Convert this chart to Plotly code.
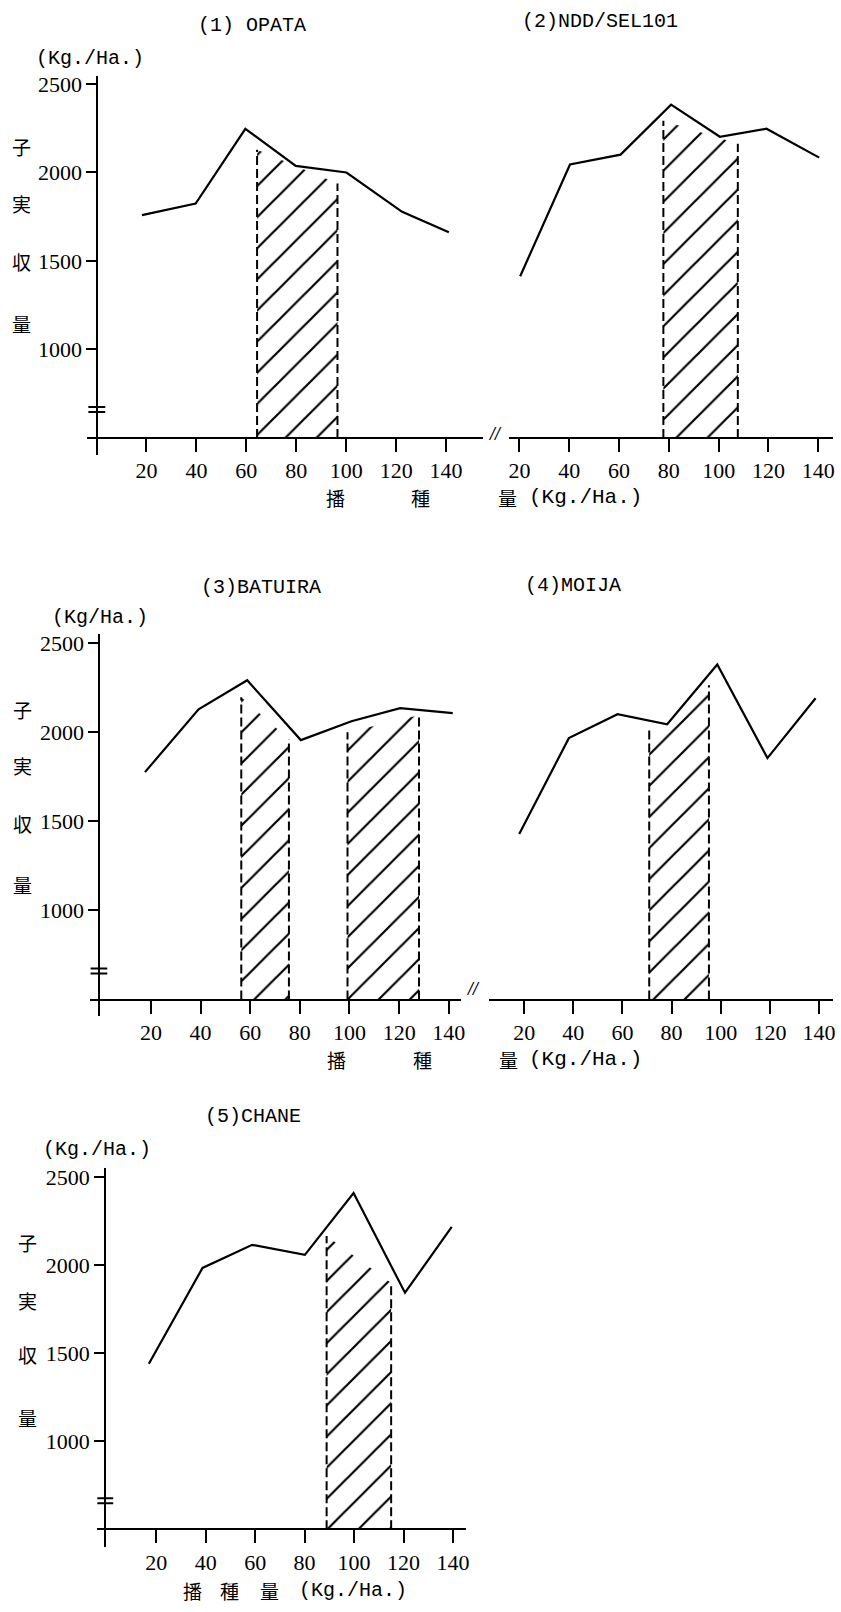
import plotly.graph_objects as go

W, H = 841, 1612

# ---------------- data ----------------
titles = ["(1) OPATA", "(2)NDD/SEL101", "(3)BATUIRA", "(4)MOIJA", "(5)CHANE"]
x_ticks = [20, 40, 60, 80, 100, 120, 140]
y_ticks = [1000, 1500, 2000, 2500]

rate_1 = [18.2, 39.7, 59.6, 79.8, 100.1, 122.4, 141.1]
yield_1 = [1758, 1824, 2246, 2036, 1999, 1777, 1661]
rate_2 = [20.3, 40.3, 60.6, 80.9, 100.5, 119.2, 140.4]
yield_2 = [1413, 2044, 2100, 2382, 2201, 2246, 2083]
rate_3 = [17.6, 39.2, 58.8, 80.4, 100.8, 120.4, 141.6]
yield_3 = [1777, 2130, 2293, 1957, 2063, 2136, 2108]
rate_4 = [18.0, 38.2, 58.0, 78.2, 98.6, 119.0, 138.6]
yield_4 = [1430, 1968, 2102, 2046, 2382, 1856, 2192]
rate_5 = [17.0, 38.7, 58.8, 80.1, 99.8, 120.6, 139.5]
yield_5 = [1440, 1984, 2115, 2058, 2409, 1843, 2217]

# optimum ranges (hatched): [left rate, right rate, top at left, top at right]
hatch_1 = [[64.3, 96.5, 2128, 1937]]
hatch_2 = [[77.8, 107.7, 2292, 2162]]
hatch_3 = [[56.4, 75.6, 2197, 1962], [99.2, 128.0, 2001, 2097]]
hatch_4 = [[70.9, 95.2, 2018, 2265]]
hatch_5 = [[88.9, 115.0, 2166, 1899]]

base_value = 500

# ---------------- layout helpers (pixel geometry) ----------------
panels = [
    dict(rate=rate_1, yld=yield_1, hatch=hatch_1, p0=96.2, k=2.515, span=(87, 485), yax=97, row=0, show_y=True),
    dict(rate=rate_2, yld=yield_2, hatch=hatch_2, p0=472.0, k=2.508, span=(512, 838), yax=472, row=0, show_y=False),
    dict(rate=rate_3, yld=yield_3, hatch=hatch_3, p0=101.0, k=2.5, span=(90, 463), yax=99, row=1, show_y=True),
    dict(rate=rate_4, yld=yield_4, hatch=hatch_4, p0=477.4, k=2.475, span=(492, 838), yax=477, row=1, show_y=False),
    dict(rate=rate_5, yld=yield_5, hatch=hatch_5, p0=106.6, k=2.49, span=(97, 468), yax=105, row=2, show_y=True),
]
rows = [
    dict(base=435, k=0.1775, top=72, bottom=452),
    dict(base=998, k=0.1785, top=632, bottom=1015),
    dict(base=1529, k=0.1765, top=1167, bottom=1547),
]

def px(x):
    return x / W

def py(y):
    return 1 - y / H

NUM_FONT = dict(family="Liberation Serif, DejaVu Serif, serif", size=22, color="black")
TXT_FONT = dict(family="Liberation Mono, monospace", size=20, color="black")
UNIT_X_FONT = dict(family="Liberation Mono, monospace", size=21, color="black")
CJK_FONT = dict(family="Noto Sans CJK JP", size=19, color="black")

fig = go.Figure()
layout = dict(
    width=W, height=H, autosize=False,
    margin=dict(l=0, r=0, t=0, b=0),
    paper_bgcolor="white", plot_bgcolor="white",
    showlegend=False,
)
shapes = []

for i, p in enumerate(panels):
    n = i + 1
    r = rows[p["row"]]
    xs = "x" if n == 1 else f"x{n}"
    ys = "y" if n == 1 else f"y{n}"
    xr = [(p["span"][0] - p["p0"]) / p["k"], (p["span"][1] - p["p0"]) / p["k"]]
    yr = [base_value - (r["bottom"] - r["base"]) / r["k"],
          base_value + (r["base"] - r["top"]) / r["k"]]
    layout["xaxis" if n == 1 else f"xaxis{n}"] = dict(
        domain=[px(p["span"][0]), px(p["span"][1])], range=xr,
        anchor="free", position=py(r["base"]),
        showgrid=False, zeroline=False, showline=True, linecolor="black", linewidth=2,
        ticks="outside", ticklen=13, tickwidth=2, tickcolor="black",
        tickvals=x_ticks, ticktext=[str(v) for v in x_ticks], tickfont=NUM_FONT,
    )
    layout["yaxis" if n == 1 else f"yaxis{n}"] = dict(
        domain=[py(r["bottom"]), py(r["top"])], range=yr,
        anchor="free", position=px(p["yax"]),
        visible=p["show_y"],
        showgrid=False, zeroline=False, showline=True, linecolor="black", linewidth=2,
        ticks="outside", ticklen=10, tickwidth=2, tickcolor="black",
        tickvals=y_ticks, ticktext=[str(v) for v in y_ticks], tickfont=NUM_FONT,
    )

    for h in p["hatch"]:
        xl, xrr, tl, tr = h
        fig.add_trace(go.Scatter(
            x=[xl, xl, xrr, xrr, xl], y=[base_value, tl, tr, base_value, base_value],
            xaxis=xs, yaxis=ys, mode="lines", fill="toself",
            line=dict(width=0, color="rgba(0,0,0,0)"),
            fillcolor="rgba(0,0,0,0)",
            fillpattern=dict(shape="/", fgcolor="black", fgopacity=1,
                             bgcolor="rgba(0,0,0,0)", size=22, solidity=0.1),
            hoverinfo="skip",
        ))
        fig.add_trace(go.Scatter(
            x=[xl, xl, None, xrr, xrr], y=[base_value, tl, None, base_value, tr],
            xaxis=xs, yaxis=ys, mode="lines",
            line=dict(color="black", width=2, dash="9px,4px"),
            hoverinfo="skip",
        ))

    fig.add_trace(go.Scatter(
        x=p["rate"], y=p["yld"], xaxis=xs, yaxis=ys, mode="lines",
        line=dict(color="black", width=2.2),
    ))

    if p["show_y"]:
        # axis-break mark on the y axis
        for off in (31, 26):
            yb = base_value + off / r["k"]
            shapes.append(dict(type="line", xref=xs, yref=ys,
                               x0=(p["yax"] - 9 - p["p0"]) / p["k"], x1=(p["yax"] + 8 - p["p0"]) / p["k"],
                               y0=yb, y1=yb, line=dict(color="black", width=2)))

annotations = []

def ann(text, x, y, font, xanchor="center"):
    annotations.append(dict(text=text, x=px(x), y=py(y), xref="paper", yref="paper",
                            showarrow=False, font=font, xanchor=xanchor, yanchor="middle"))

# titles
ann(titles[0], 253, 22, TXT_FONT)
ann(titles[1], 603, 18, TXT_FONT)
ann(titles[2], 262, 585, TXT_FONT)
ann(titles[3], 576, 583, TXT_FONT)
ann(titles[4], 254, 1115, TXT_FONT)

# y units
ann("(Kg./Ha.)", 90, 55, TXT_FONT)
ann("(Kg/Ha.)", 100, 615, TXT_FONT)
ann("(Kg./Ha.)", 97, 1148, TXT_FONT)

# y-axis title characters
y_chars = ["子", "実", "収", "量"]
for (cx, ylist) in [(21, [143, 200, 258, 320]), (22, [707, 763, 822, 883]), (27, [1242, 1300, 1354, 1417])]:
    for ch, yy in zip(y_chars, ylist):
        ann(ch, cx, yy, CJK_FONT)

# x-axis titles
for (xs_, yy, unit_x, ufont) in [((337, 423, 510), 495, 530, UNIT_X_FONT),
                                 ((338, 425, 511), 1058, 530, UNIT_X_FONT),
                                 ((193, 230, 270), 1590, 298, TXT_FONT)]:
    for ch, xx in zip(["播", "種", "量"], xs_):
        ann(ch, xx, yy, CJK_FONT)
    ann("(Kg./Ha.)", unit_x, yy, ufont, xanchor="left")

# axis break marks between panels
BRK_FONT = dict(family="Liberation Serif, serif", size=18, color="black", style="italic", weight="bold")
ann("//", 498, 431, BRK_FONT)
ann("//", 475, 987, BRK_FONT)

layout["annotations"] = annotations
layout["shapes"] = shapes
fig.update_layout(**layout)
fig.write_html("out.html")
